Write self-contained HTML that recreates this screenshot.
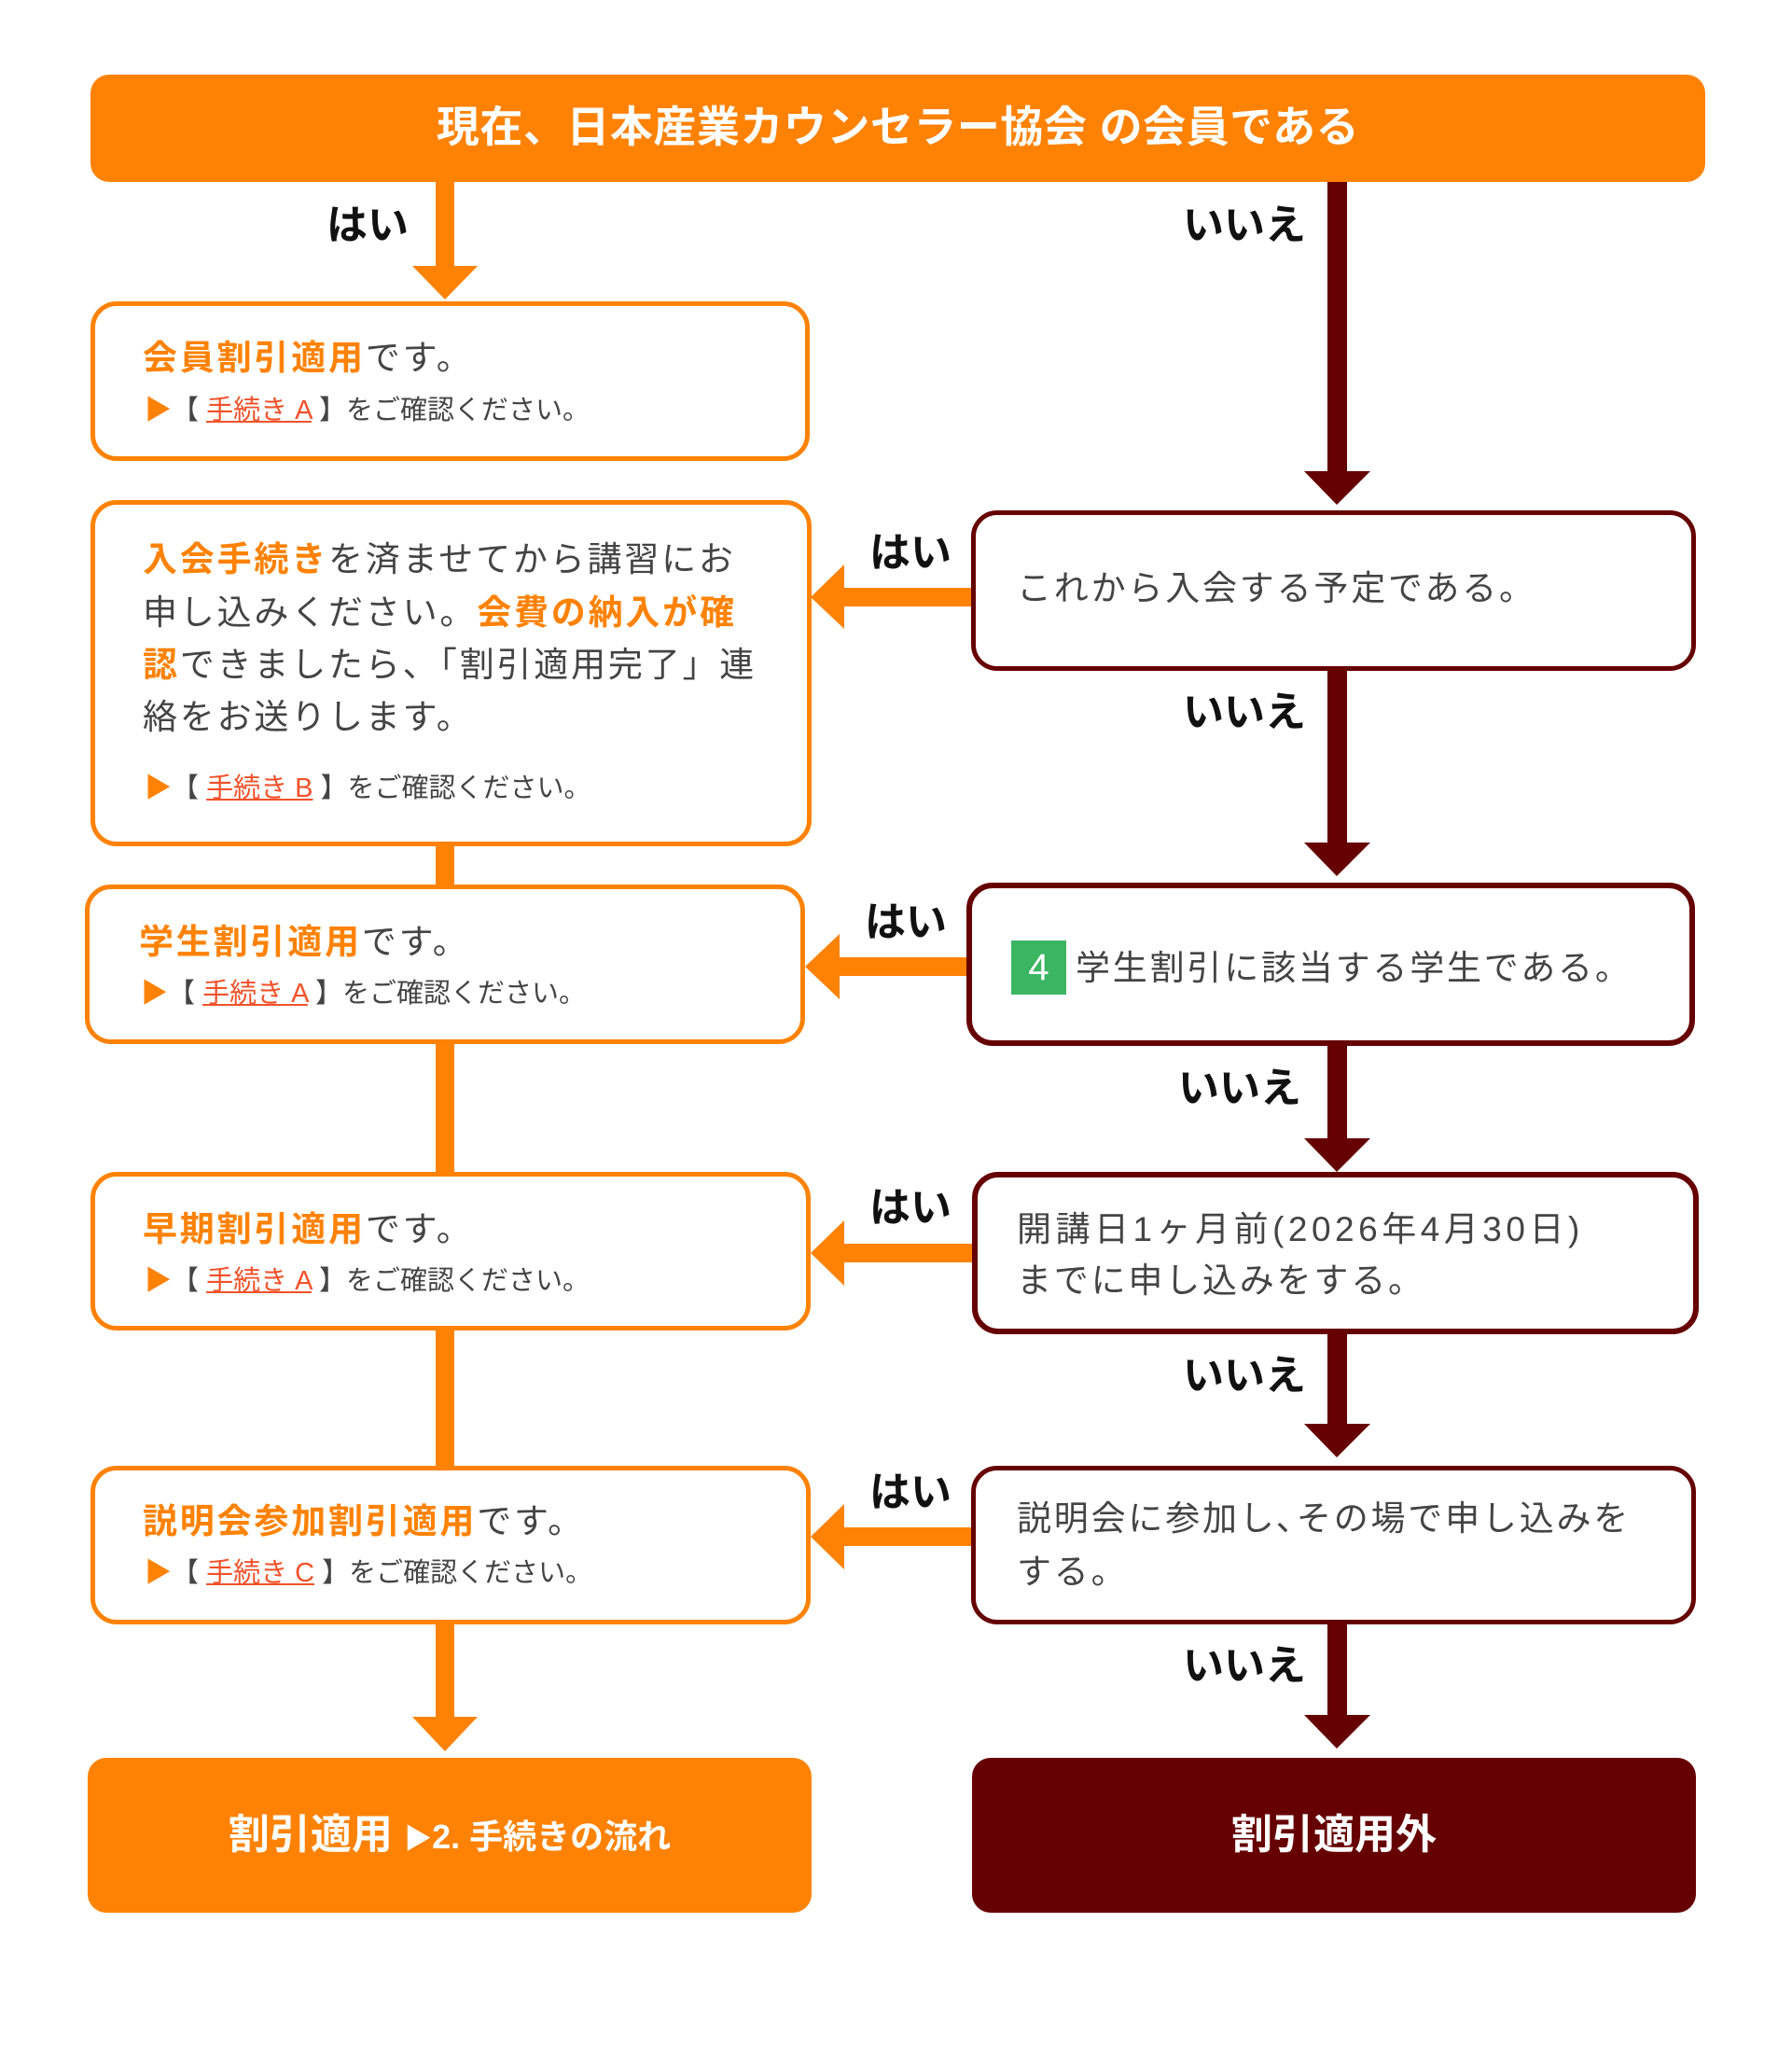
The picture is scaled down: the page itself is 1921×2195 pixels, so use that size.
<!DOCTYPE html>
<html><head><meta charset="utf-8"><style>
*{margin:0;padding:0;box-sizing:border-box}
body{width:1921px;height:2195px;background:#fff;position:relative;overflow:hidden;font-family:"Liberation Sans","Noto Sans CJK JP",sans-serif;color:#444}
.b{position:absolute;border-radius:28px;background:#fff}
.o{border:5px solid #ff8204}
.r{border:5px solid #660000}
.t{position:absolute;white-space:nowrap;font-size:37px;line-height:56px;letter-spacing:2.8px}
.s{position:absolute;white-space:nowrap;font-size:29px;line-height:40px}
.h{color:#ff8204;font-weight:bold}
.l{color:#f0522a;text-decoration:underline}
.lab{position:absolute;font-size:44px;font-weight:bold;color:#111;line-height:50px;white-space:nowrap}
.tri{color:#ff8204}
</style></head><body>
<svg width="1921" height="2195" style="position:absolute;left:0;top:0">
<g fill="#ff8204">
<rect x="467" y="195" width="20" height="100"/><polygon points="442,285 512,285 477,321"/>
<rect x="467" y="905" width="20" height="45"/>
<rect x="467" y="1118" width="20" height="140"/>
<rect x="467" y="1425" width="20" height="148"/>
<rect x="467" y="1740" width="20" height="105"/><polygon points="442,1840 512,1840 477,1877"/>
<rect x="900" y="630" width="145" height="20"/><polygon points="905,605 905,674 869,640"/>
<rect x="895" y="1026" width="145" height="20"/><polygon points="900,1001 900,1071 863,1036"/>
<rect x="900" y="1333" width="145" height="20"/><polygon points="905,1308 905,1378 869,1343"/>
<rect x="900" y="1637" width="145" height="20"/><polygon points="905,1612 905,1682 869,1647"/>
</g>
<g fill="#660000">
<rect x="1423" y="195" width="21" height="315"/><polygon points="1398,505 1469,505 1433,541"/>
<rect x="1423" y="716" width="21" height="190"/><polygon points="1398,903 1469,903 1433,939"/>
<rect x="1423" y="1118" width="21" height="105"/><polygon points="1398,1220 1469,1220 1433,1256"/>
<rect x="1423" y="1428" width="21" height="100"/><polygon points="1398,1526 1469,1526 1433,1562"/>
<rect x="1423" y="1738" width="21" height="100"/><polygon points="1398,1838 1469,1838 1433,1874"/>
</g>
</svg>

<div class="b" style="left:97px;top:80px;width:1731px;height:115px;background:#ff8204;border-radius:20px"></div>
<div style="position:absolute;left:97px;top:108px;width:1731px;text-align:center;color:#fff;font-weight:bold;font-size:46px;line-height:56px;letter-spacing:0.5px">現在、日本産業カウンセラー協会 の会員である</div>

<div class="lab" style="left:350px;top:217px">はい</div>
<div class="lab" style="left:1268px;top:217px">いいえ</div>

<div class="b o" style="left:97px;top:323px;width:771px;height:171px"></div>
<div class="t" style="left:153px;top:356px"><span class="h">会員割引適用</span>です。</div>
<div class="s" style="left:155px;top:420px"><span class="tri">▶</span>【 <span class="l">手続き A</span> 】をご確認ください。</div>

<div class="b o" style="left:97px;top:536px;width:773px;height:371px"></div>
<div class="t" style="left:153px;top:572px"><span class="h">入会手続き</span>を済ませてから講習にお</div>
<div class="t" style="left:153px;top:629px">申し込みください。<span class="h">会費の納入が確</span></div>
<div class="t" style="left:153px;top:685px"><span class="h">認</span>できましたら、「割引適用完了」連</div>
<div class="t" style="left:153px;top:741px">絡をお送りします。</div>
<div class="s" style="left:155px;top:825px"><span class="tri">▶</span>【 <span class="l">手続き B</span> 】をご確認ください。</div>

<div class="b r" style="left:1041px;top:547px;width:777px;height:172px"></div>
<div class="t" style="left:1090px;top:603px">これから入会する予定である。</div>
<div class="lab" style="left:932px;top:568px">はい</div>
<div class="lab" style="left:1268px;top:739px">いいえ</div>

<div class="b o" style="left:91px;top:948px;width:772px;height:171px"></div>
<div class="t" style="left:149px;top:982px"><span class="h">学生割引適用</span>です。</div>
<div class="s" style="left:151px;top:1045px"><span class="tri">▶</span>【 <span class="l">手続き A</span> 】をご確認ください。</div>

<div class="b r" style="left:1036px;top:946px;width:781px;height:175px;border-width:6px"></div>
<div style="position:absolute;left:1084px;top:1008px;width:59px;height:58px;background:#3cb563;color:#fff;font-size:40px;line-height:58px;text-align:center">4</div>
<div class="t" style="left:1153px;top:1010px">学生割引に該当する学生である。</div>
<div class="lab" style="left:927px;top:964px">はい</div>
<div class="lab" style="left:1263px;top:1142px">いいえ</div>

<div class="b o" style="left:97px;top:1256px;width:772px;height:170px"></div>
<div class="t" style="left:153px;top:1290px"><span class="h">早期割引適用</span>です。</div>
<div class="s" style="left:155px;top:1353px"><span class="tri">▶</span>【 <span class="l">手続き A</span> 】をご確認ください。</div>

<div class="b r" style="left:1042px;top:1256px;width:779px;height:174px;border-width:6px"></div>
<div class="t" style="left:1090px;top:1290px;letter-spacing:4.5px">開講日1ヶ月前(2026年4月30日)</div>
<div class="t" style="left:1090px;top:1345px">までに申し込みをする。</div>
<div class="lab" style="left:932px;top:1270px">はい</div>
<div class="lab" style="left:1268px;top:1450px">いいえ</div>

<div class="b o" style="left:97px;top:1571px;width:772px;height:170px"></div>
<div class="t" style="left:153px;top:1603px"><span class="h">説明会参加割引適用</span>です。</div>
<div class="s" style="left:155px;top:1666px"><span class="tri">▶</span>【 <span class="l">手続き C</span> 】をご確認ください。</div>

<div class="b r" style="left:1041px;top:1571px;width:777px;height:170px"></div>
<div class="t" style="left:1090px;top:1600px">説明会に参加し､その場で申し込みを</div>
<div class="t" style="left:1090px;top:1657px">する。</div>
<div class="lab" style="left:932px;top:1575px">はい</div>
<div class="lab" style="left:1268px;top:1761px">いいえ</div>

<div class="b" style="left:94px;top:1884px;width:776px;height:166px;background:#ff8204;border-radius:20px"></div>
<div style="position:absolute;left:94px;top:1939px;width:776px;text-align:center;color:#fff;font-weight:bold;font-size:44px;line-height:56px;white-space:nowrap">割引適用 <span style="font-size:30px">▶</span><span style="font-size:36px">2. 手続きの流れ</span></div>
<div class="b" style="left:1042px;top:1884px;width:776px;height:166px;background:#660000;border-radius:20px"></div>
<div style="position:absolute;left:1042px;top:1939px;width:776px;text-align:center;color:#fff;font-weight:bold;font-size:44px;line-height:56px">割引適用外</div>
</body></html>
